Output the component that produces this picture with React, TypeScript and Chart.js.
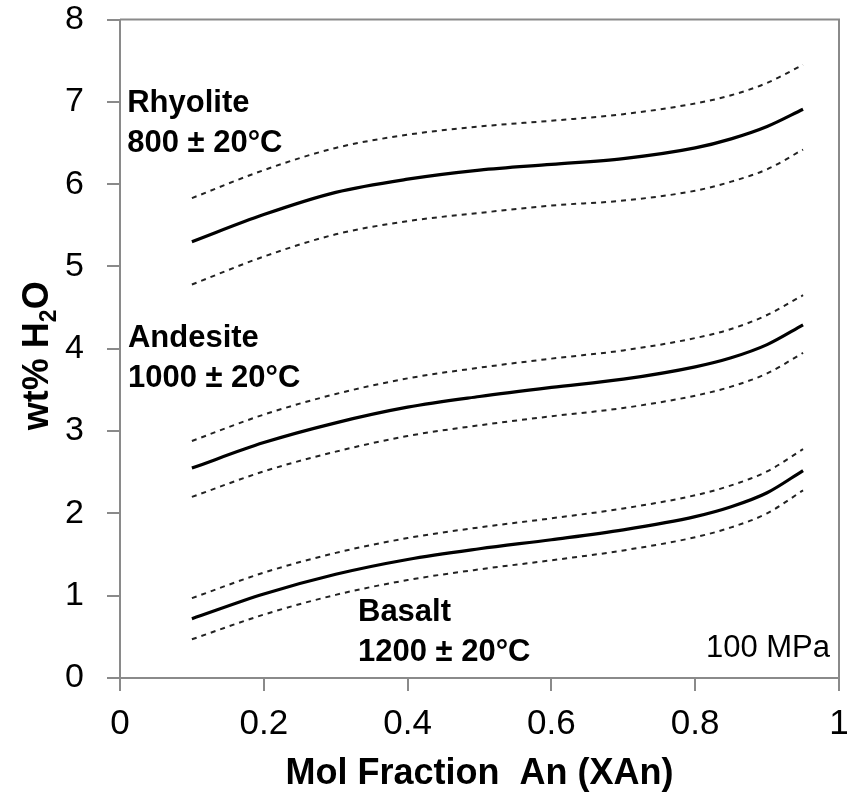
import { useEffect, useRef } from "react";
import { Chart, registerables } from "chart.js";

Chart.register(...registerables);

// ---- data ----
const XAN = [0.1, 0.2, 0.3, 0.4, 0.5, 0.6, 0.7, 0.8, 0.85, 0.9, 0.95];

const RHYOLITE = [5.3, 5.63, 5.9, 6.06, 6.17, 6.24, 6.31, 6.44, 6.55, 6.7, 6.91];
const RHYOLITE_HI = [5.83, 6.17, 6.44, 6.6, 6.7, 6.77, 6.85, 6.98, 7.08, 7.23, 7.45];
const RHYOLITE_LO = [4.78, 5.12, 5.39, 5.55, 5.65, 5.74, 5.8, 5.92, 6.03, 6.18, 6.42];

const ANDESITE = [2.55, 2.86, 3.1, 3.29, 3.42, 3.53, 3.63, 3.78, 3.89, 4.05, 4.29];
const ANDESITE_HI = [2.88, 3.2, 3.45, 3.64, 3.77, 3.88, 3.98, 4.13, 4.24, 4.41, 4.65];
const ANDESITE_LO = [2.2, 2.51, 2.75, 2.94, 3.07, 3.18, 3.28, 3.43, 3.54, 3.7, 3.95];

const BASALT = [0.72, 1.02, 1.26, 1.44, 1.57, 1.68, 1.8, 1.96, 2.08, 2.25, 2.52];
const BASALT_HI = [0.97, 1.28, 1.52, 1.7, 1.83, 1.94, 2.06, 2.22, 2.34, 2.51, 2.78];
const BASALT_LO = [0.47, 0.77, 1.01, 1.19, 1.32, 1.43, 1.55, 1.71, 1.83, 2.0, 2.28];

const X_TITLE = "Mol Fraction  An (XAn)";
const X_MIN = 0;
const X_MAX = 1;
const X_STEP = 0.2;
const Y_MIN = 0;
const Y_MAX = 8;
const Y_STEP = 1;

// text annotations: anchor in data units (first line baseline)
const NOTE_TEXTS = [
  ["Rhyolite", "800 ± 20°C"],
  ["Andesite", "1000 ± 20°C"],
  ["Basalt", "1200 ± 20°C"],
  ["100 MPa"],
];
const NOTE_X = [0.01, 0.011, 0.331, 0.9875];
const NOTE_Y = [6.88, 4.02, 0.69, 0.255];

const FONT = "'Liberation Sans', Arial, Helvetica, sans-serif";
const AXIS_GRAY = "#8a8a8a";

const pts = (ys: number[]) => XAN.map((x, i) => ({ x, y: ys[i] }));

const solid = (ys: number[]) => ({
  data: pts(ys),
  borderColor: "#000",
  borderWidth: 3.2,
  pointRadius: 0,
  fill: false,
  cubicInterpolationMode: "monotone" as const,
});
const dashed = (ys: number[]) => ({
  data: pts(ys),
  borderColor: "#222",
  borderWidth: 2,
  borderDash: [5, 5],
  pointRadius: 0,
  fill: false,
  cubicInterpolationMode: "monotone" as const,
});

const framePlugin = {
  id: "frame",
  afterDraw(chart: any) {
    const { ctx, chartArea } = chart;
    ctx.save();
    ctx.strokeStyle = AXIS_GRAY;
    ctx.lineWidth = 2;
    ctx.beginPath();
    ctx.moveTo(chartArea.left, chartArea.top);
    ctx.lineTo(chartArea.right, chartArea.top);
    ctx.lineTo(chartArea.right, chartArea.bottom);
    ctx.stroke();
    ctx.restore();
  },
};

const notesPlugin = {
  id: "notes",
  afterDatasetsDraw(chart: any) {
    const { ctx } = chart;
    const xs = chart.scales.x;
    const ys = chart.scales.y;
    ctx.save();
    ctx.fillStyle = "#000";
    ctx.textBaseline = "alphabetic";
    NOTE_TEXTS.forEach((lines, i) => {
      const isPressure = lines.length === 1;
      ctx.font = isPressure ? `31px ${FONT}` : `bold 31px ${FONT}`;
      ctx.textAlign = isPressure ? "right" : "left";
      const px = xs.getPixelForValue(NOTE_X[i]);
      const py = ys.getPixelForValue(NOTE_Y[i]);
      lines.forEach((t, j) => ctx.fillText(t, px, py + j * 40));
    });
    ctx.restore();
  },
};

const yTitlePlugin = {
  id: "ytitle",
  afterDraw(chart: any) {
    const { ctx, chartArea } = chart;
    const main = `bold 36px ${FONT}`;
    const sub = `bold 23px ${FONT}`;
    ctx.save();
    ctx.font = main;
    const w1 = ctx.measureText("wt% H").width;
    const w3 = ctx.measureText("O").width;
    ctx.font = sub;
    const w2 = ctx.measureText("2").width;
    const total = w1 + w2 + w3;
    const cy = (chartArea.top + chartArea.bottom) / 2 + 7;
    ctx.translate(48, cy);
    ctx.rotate(-Math.PI / 2);
    ctx.fillStyle = "#000";
    ctx.textAlign = "left";
    ctx.textBaseline = "alphabetic";
    let x = -total / 2;
    ctx.font = main;
    ctx.fillText("wt% H", x, 0);
    x += w1;
    ctx.font = sub;
    ctx.fillText("2", x, 8);
    x += w2;
    ctx.font = main;
    ctx.fillText("O", x, 0);
    ctx.restore();
  },
};

export default function App() {
  const ref = useRef<HTMLCanvasElement | null>(null);

  useEffect(() => {
    if (!ref.current) return;
    const chart = new Chart(ref.current, {
      type: "line",
      data: {
        datasets: [
          solid(RHYOLITE),
          dashed(RHYOLITE_HI),
          dashed(RHYOLITE_LO),
          solid(ANDESITE),
          dashed(ANDESITE_HI),
          dashed(ANDESITE_LO),
          solid(BASALT),
          dashed(BASALT_HI),
          dashed(BASALT_LO),
        ],
      },
      options: {
        animation: false,
        responsive: false,
        devicePixelRatio: 1,
        layout: { padding: 0 },
        plugins: {
          legend: { display: false },
          tooltip: { enabled: false },
        },
        scales: {
          x: {
            type: "linear",
            min: X_MIN,
            max: X_MAX,
            afterFit: (s: any) => {
              s.height = 115;
              s.paddingLeft = 0;
              s.paddingRight = 17;
            },
            ticks: {
              stepSize: X_STEP,
              color: "#000",
              font: { family: FONT, size: 35, lineHeight: 1.2 },
              padding: 12,
              maxRotation: 0,
              callback: (v: any) => String(Math.round(Number(v) * 10) / 10),
            },
            grid: {
              drawOnChartArea: false,
              drawTicks: true,
              tickLength: 13,
              color: AXIS_GRAY,
              lineWidth: 2,
            },
            border: { display: true, color: AXIS_GRAY, width: 2 },
            title: {
              display: true,
              text: X_TITLE,
              color: "#000",
              font: { family: FONT, size: 36, weight: "bold", lineHeight: 1.05 },
              padding: { top: 0, bottom: 0 },
            },
          },
          y: {
            type: "linear",
            min: Y_MIN,
            max: Y_MAX,
            afterFit: (s: any) => {
              s.width = 120;
              s.paddingTop = 19.5;
              s.paddingBottom = 0;
            },
            ticks: {
              stepSize: Y_STEP,
              color: "#000",
              font: { family: FONT, size: 34, lineHeight: 1 },
              padding: 23,
            },
            grid: {
              drawOnChartArea: false,
              drawTicks: true,
              tickLength: 13,
              color: AXIS_GRAY,
              lineWidth: 2,
            },
            border: { display: true, color: AXIS_GRAY, width: 2 },
          },
        },
      },
      plugins: [framePlugin, notesPlugin, yTitlePlugin],
    } as any);
    return () => chart.destroy();
  }, []);

  return (
    <div style={{ position: "absolute", left: 0, top: 0, width: 856, height: 793, background: "#fff" }}>
      <canvas ref={ref} width={856} height={793} style={{ display: "block" }} />
    </div>
  );
}
